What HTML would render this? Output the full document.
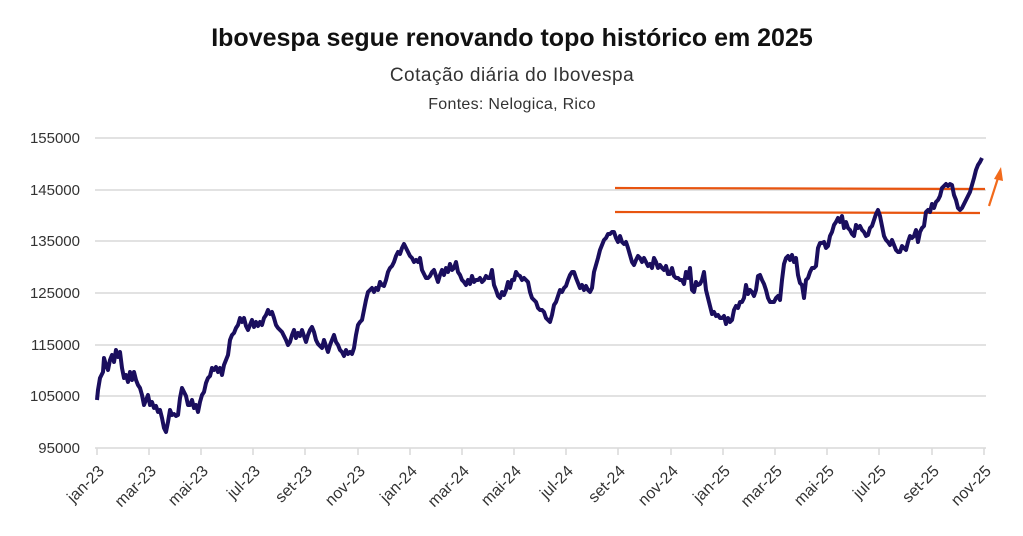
<!DOCTYPE html>
<html><head><meta charset="utf-8"><style>
body{margin:0;background:#fff;}
svg{display:block;font-family:"Liberation Sans",sans-serif;}
</style></head><body>
<svg width="1023" height="536" viewBox="0 0 1023 536">
<text x="512" y="46" text-anchor="middle" font-size="25" font-weight="bold" fill="#111">Ibovespa segue renovando topo histórico em 2025</text>
<text x="512" y="81" text-anchor="middle" font-size="19" fill="#333" letter-spacing="0.5">Cotação diária do Ibovespa</text>
<text x="512" y="109" text-anchor="middle" font-size="16" fill="#333" letter-spacing="0.3">Fontes: Nelogica, Rico</text>
<g stroke="#d9d9d9" stroke-width="1.5">
<line x1="95" x2="986" y1="138" y2="138"/><line x1="95" x2="986" y1="190" y2="190"/>
<line x1="95" x2="986" y1="241" y2="241"/><line x1="95" x2="986" y1="293" y2="293"/>
<line x1="95" x2="986" y1="345" y2="345"/><line x1="95" x2="986" y1="396" y2="396"/>
<line x1="95" x2="986" y1="448" y2="448"/>
<path d="M97,448v7M149,448v7M201,448v7M253,448v7M305,448v7M358,448v7M410,448v7M462,448v7M514,448v7M566,448v7M618,448v7M671,448v7M723,448v7M775,448v7M827,448v7M879,448v7M932,448v7M984,448v7"/>
</g>
<g font-size="15" fill="#333" text-anchor="end">
<text x="80" y="143">155000</text><text x="80" y="195">145000</text><text x="80" y="246">135000</text>
<text x="80" y="298">125000</text><text x="80" y="350">115000</text><text x="80" y="401">105000</text><text x="80" y="453">95000</text>
</g>
<polyline fill="none" stroke="#e8540f" stroke-width="2.2" points="615,188 985,189"/>
<polyline fill="none" stroke="#e8540f" stroke-width="2.2" points="615,212 980,213"/>
<line x1="989" y1="206" x2="998" y2="178" stroke="#f26a1b" stroke-width="2.2"/>
<polygon points="1001,167 994,179 1003,181" fill="#f26a1b"/>
<polyline fill="none" stroke="#1a0e5e" stroke-width="4" stroke-linejoin="round" points="97,400 98,390 100,378 103,372 104,358 106,365 108,370 110,360 112,355 114,362 116,350 118,357 120,352 122,368 124,378 126,375 128,382 130,372 132,380 134,372 136,380 138,385 140,388 142,395 144,405 146,400 148,395 150,405 152,402 154,408 156,406 158,412 160,410 162,418 164,428 166,432 168,422 170,410 172,415 174,414 176,416 178,415 180,398 182,388 184,392 186,396 188,405 190,405 192,400 194,408 196,405 198,412 200,402 202,395 204,392 206,383 208,378 210,376 212,368 214,370 216,367 218,372 220,368 222,375 224,365 226,360 228,355 230,340 232,335 234,333 236,328 238,325 240,318 242,322 244,318 246,326 248,330 250,325 252,320 254,327 256,322 258,326 260,322 262,325 264,318 266,315 268,310 270,314 272,312 274,318 276,325 278,328 280,330 282,332 284,336 286,340 288,345 290,342 292,335 294,330 296,338 298,333 300,336 302,330 304,336 306,342 308,335 310,330 312,327 314,332 316,340 318,344 320,346 322,348 324,340 326,346 328,352 330,345 332,340 334,335 336,342 338,345 340,350 342,352 344,356 346,350 348,354 350,352 352,354 354,348 356,335 358,325 360,322 362,320 364,310 366,300 368,292 370,290 372,288 374,292 376,288 378,290 380,282 382,285 384,286 386,280 388,272 390,268 392,266 394,262 396,256 398,252 400,254 402,248 404,244 406,248 408,252 410,256 412,258 414,262 416,260 418,262 420,258 422,270 424,274 426,278 428,278 430,276 432,272 434,270 436,276 438,282 440,275 442,270 444,275 446,268 448,272 450,264 452,270 454,268 456,262 458,272 460,275 462,280 464,282 466,285 468,280 470,284 472,276 474,282 476,280 478,280 480,278 482,282 484,280 486,276 488,278 490,278 492,270 494,285 496,290 498,296 500,298 502,292 504,295 506,290 508,282 510,288 512,280 514,280 516,272 518,275 520,276 522,280 524,278 526,280 528,282 530,292 532,298 534,300 536,302 538,308 540,310 542,310 544,312 546,318 548,320 550,322 552,315 554,305 556,302 558,296 560,290 562,292 564,288 566,286 568,280 570,275 572,272 574,272 576,278 578,283 580,288 582,285 584,290 586,286 588,290 590,292 592,288 594,272 596,265 598,258 600,250 602,245 604,240 606,238 608,234 610,234 612,232 614,232 616,238 618,242 620,236 622,242 624,244 626,242 628,248 630,255 632,262 634,265 636,260 638,256 640,258 642,262 644,258 646,262 648,266 650,264 652,268 654,258 656,262 658,268 660,265 662,268 664,270 666,266 668,274 670,274 672,268 674,276 676,278 678,278 680,280 682,280 684,284 686,272 688,278 690,268 692,290 694,292 696,282 698,285 700,284 702,280 704,272 706,290 708,298 710,306 712,314 714,312 716,316 718,315 720,318 722,318 724,316 726,324 728,318 730,322 732,320 734,310 736,306 738,308 740,302 742,302 744,298 746,285 748,294 750,290 752,292 754,296 756,290 758,276 760,275 762,280 764,284 766,290 768,298 770,302 772,302 774,302 776,298 778,296 780,300 782,280 784,264 786,258 788,256 790,260 792,255 794,262 796,258 798,275 800,283 802,285 804,298 806,280 808,278 810,272 812,268 814,268 816,266 818,248 820,243 822,243 824,242 826,248 828,246 830,236 832,232 834,225 836,222 838,218 840,222 842,216 844,228 846,222 848,228 850,230 852,234 854,236 856,225 858,228 860,226 862,230 864,232 866,236 868,235 870,228 872,226 874,220 876,214 878,210 880,216 882,226 884,236 886,240 888,242 890,245 892,240 894,245 896,250 898,252 900,252 902,246 904,248 906,250 908,242 910,236 912,238 914,236 916,230 918,242 920,232 922,228 924,226 926,212 928,210 930,212 932,204 934,208 936,202 938,200 940,196 942,188 944,186 946,184 948,186 950,184 952,185 954,195 956,200 958,208 960,210 962,208 964,204 966,200 968,196 970,192 972,185 974,178 976,170 978,165 980,162 982,158"/>
<g font-size="16" fill="#333" text-anchor="end">
<text transform="translate(105,472) rotate(-45)">jan-23</text>
<text transform="translate(157,472) rotate(-45)">mar-23</text>
<text transform="translate(209,472) rotate(-45)">mai-23</text>
<text transform="translate(261,472) rotate(-45)">jul-23</text>
<text transform="translate(313,472) rotate(-45)">set-23</text>
<text transform="translate(366,472) rotate(-45)">nov-23</text>
<text transform="translate(418,472) rotate(-45)">jan-24</text>
<text transform="translate(470,472) rotate(-45)">mar-24</text>
<text transform="translate(522,472) rotate(-45)">mai-24</text>
<text transform="translate(574,472) rotate(-45)">jul-24</text>
<text transform="translate(626,472) rotate(-45)">set-24</text>
<text transform="translate(679,472) rotate(-45)">nov-24</text>
<text transform="translate(731,472) rotate(-45)">jan-25</text>
<text transform="translate(783,472) rotate(-45)">mar-25</text>
<text transform="translate(835,472) rotate(-45)">mai-25</text>
<text transform="translate(887,472) rotate(-45)">jul-25</text>
<text transform="translate(940,472) rotate(-45)">set-25</text>
<text transform="translate(992,472) rotate(-45)">nov-25</text>
</g>
</svg>
</body></html>
